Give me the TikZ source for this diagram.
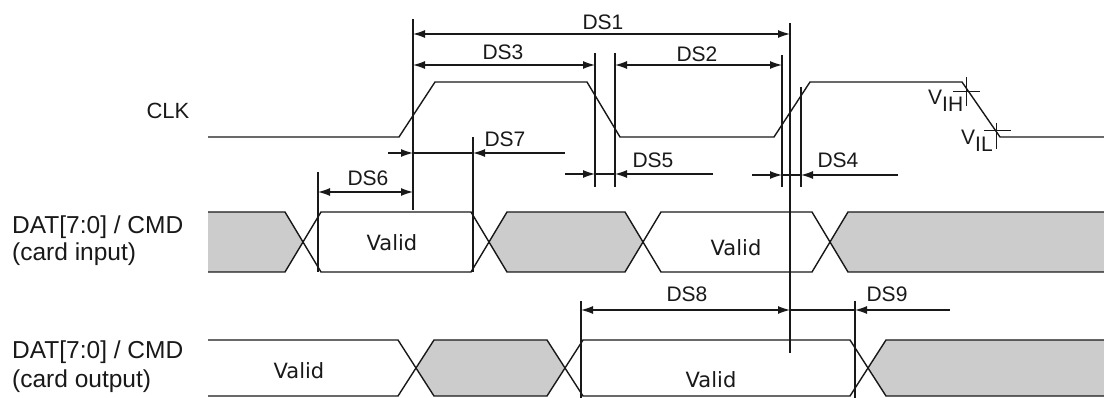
\documentclass[tikz,border=0pt]{standalone}
\usepackage{fontspec}
\setmainfont{Liberation Sans}
\newfontfamily\validfont{DejaVu Sans}
\usetikzlibrary{arrows.meta}
\definecolor{sigfill}{RGB}{204,204,204}
\definecolor{ink}{RGB}{25,25,25}
\begin{document}
\begin{tikzpicture}[x=1pt,y=-1pt,
  sig/.style={draw=ink, line width=1.4pt, line join=miter},
  dim/.style={draw=ink, line width=1.2pt},
  tip/.style={-{Latex[length=12pt,width=8pt]}},
  bothtip/.style={{Latex[length=12pt,width=8pt]}-{Latex[length=12pt,width=8pt]}},
  dslbl/.style={font=\fontsize{21}{21}\selectfont, inner sep=0pt, text=ink},
  signame/.style={font=\fontsize{24.5}{28}\selectfont, inner sep=0pt, anchor=base west, text=ink},
  validlbl/.style={font=\validfont\fontsize{21}{21}\selectfont, inner sep=0pt, text=ink},
  vlbl/.style={font=\fontsize{21}{21}\selectfont, inner sep=0pt, text=ink}]
\useasboundingbox (0,0) rectangle (1104,398);
\clip (0,0) rectangle (1104,398);
\fill[white] (0,0) rectangle (1104,398);

% ---------- signal names ----------
\node[font=\fontsize{22}{22}\selectfont, inner sep=0pt, text=ink] (clk) at (168,111) {CLK};
\node[signame] (inA) at (12,234) {DAT[7:0] / CMD};
\node[signame] (inB) at (12,261) {(card input)};
\node[signame] (outA) at (12,358) {DAT[7:0] / CMD};
\node[signame] (outB) at (12,387) {(card output)};

% ---------- CLK ----------
\draw[sig] (208,137) -- (399,137) -- (435,82) -- (587,82) -- (620,137) -- (774,137)
  -- (810,82) -- (962,82) -- (1000,137) -- (1104,137);
% VIH / VIL marks
\coordinate (vih) at (968,91);
\coordinate (vil) at (997,130);
\draw[dim, line width=0.9pt] (953,91) -- (980,91) (966,77) -- (966,106);
\draw[dim, line width=0.9pt] (984,130) -- (1011,130) (996,123) -- (996,149);
\node[vlbl, anchor=base west] (vihl) at (928,105) {V\raisebox{-7pt}{IH}};
\node[vlbl, anchor=base west] (vill) at (961,145) {V\raisebox{-7pt}{IL}};

% ---------- card input ----------
\fill[sigfill] (208,212) -- (285,212) -- (303,242) -- (285,272) -- (208,272) -- cycle;
\fill[sigfill] (489,242) -- (507,212) -- (625,212) -- (643,242) -- (625,272) -- (507,272) -- cycle;
\fill[sigfill] (830,242) -- (848,212) -- (1104,212) -- (1104,272) -- (848,272) -- cycle;
\draw[sig] (208,212) -- (285,212) -- (321,272) -- (471,272) -- (507,212) -- (625,212)
  -- (661,272) -- (812,272) -- (848,212) -- (1104,212);
\draw[sig] (208,272) -- (285,272) -- (321,212) -- (471,212) -- (507,272) -- (625,272)
  -- (661,212) -- (812,212) -- (848,272) -- (1104,272);
\node[validlbl] (v1) at (392,243) {Valid};
\node[validlbl] (v2) at (736,248) {Valid};

% ---------- card output ----------
\fill[sigfill] (416,368) -- (434,340) -- (547,340) -- (565,368) -- (547,396) -- (434,396) -- cycle;
\fill[sigfill] (868,368) -- (886,340) -- (1104,340) -- (1104,396) -- (886,396) -- cycle;
\draw[sig] (208,340) -- (398,340) -- (434,396) -- (547,396) -- (583,340) -- (850,340)
  -- (886,396) -- (1104,396);
\draw[sig] (208,396) -- (398,396) -- (434,340) -- (547,340) -- (583,396) -- (850,396)
  -- (886,340) -- (1104,340);
\node[validlbl] (v3) at (299,371) {Valid};
\node[validlbl] (v4) at (711,380) {Valid};

% ---------- reference lines ----------
\coordinate (a1) at (318,172); \coordinate (a2) at (318,272);
\coordinate (b1) at (413,19);  \coordinate (b2) at (413,210);
\coordinate (c1) at (473,137); \coordinate (c2) at (473,272);
\coordinate (d1) at (595,53);  \coordinate (d2) at (595,187);
\coordinate (e1) at (615,53);  \coordinate (e2) at (615,187);
\coordinate (f1) at (782,55);  \coordinate (f2) at (782,187);
\coordinate (g1) at (790,23);  \coordinate (g2) at (790,353);
\coordinate (h1) at (801,87);  \coordinate (h2) at (801,187);
\coordinate (i1) at (581,301); \coordinate (i2) at (581,398);
\coordinate (j1) at (855,301); \coordinate (j2) at (855,398);
\foreach \p in {a,b,c,d,e,f,g,h,i,j} \draw[dim] (\p1) -- (\p2);

% ---------- dimensions ----------
% DS1
\coordinate (ds1l) at (413,34); \coordinate (ds1r) at (790,34);
\draw[dim, bothtip] (ds1l) -- (ds1r);
\node[dslbl] (ds1) at (603,22) {DS1};
% DS3
\coordinate (ds3l) at (413,65); \coordinate (ds3r) at (595,65);
\draw[dim, bothtip] (ds3l) -- (ds3r);
\node[dslbl] (ds3) at (503,52) {DS3};
% DS2
\coordinate (ds2l) at (615,65); \coordinate (ds2r) at (782,65);
\draw[dim, bothtip] (ds2l) -- (ds2r);
\node[dslbl] (ds2) at (697,54) {DS2};
% DS7
\coordinate (ds7a) at (388,153); \coordinate (ds7b) at (413,153);
\coordinate (ds7c) at (473,153); \coordinate (ds7d) at (565,153);
\draw[dim, tip] (ds7a) -- (ds7b);
\draw[dim] (ds7b) -- (ds7c);
\draw[dim, tip] (ds7d) -- (ds7c);
\node[dslbl] (ds7) at (505,139) {DS7};
% DS6
\coordinate (ds6l) at (318,192); \coordinate (ds6r) at (413,192);
\draw[dim, bothtip] (ds6l) -- (ds6r);
\node[dslbl] (ds6) at (368,178) {DS6};
% DS5
\coordinate (ds5a) at (565,174); \coordinate (ds5b) at (595,174);
\coordinate (ds5c) at (615,174); \coordinate (ds5d) at (713,174);
\draw[dim, tip] (ds5a) -- (ds5b);
\draw[dim] (ds5b) -- (ds5c);
\draw[dim, tip] (ds5d) -- (ds5c);
\node[dslbl] (ds5) at (653,160) {DS5};
% DS4
\coordinate (ds4a) at (752,175); \coordinate (ds4b) at (782,175);
\coordinate (ds4c) at (801,175); \coordinate (ds4d) at (898,175);
\draw[dim, tip] (ds4a) -- (ds4b);
\draw[dim] (ds4b) -- (ds4c);
\draw[dim, tip] (ds4d) -- (ds4c);
\node[dslbl] (ds4) at (838,160) {DS4};
% DS8 / DS9
\coordinate (ds8l) at (581,310); \coordinate (ds8r) at (790,310);
\coordinate (ds9a) at (855,310); \coordinate (ds9b) at (950,310);
\draw[dim, bothtip] (ds8l) -- (ds8r);
\draw[dim] (ds8r) -- (ds9a);
\draw[dim, tip] (ds9b) -- (ds9a);
\node[dslbl] (ds8) at (687,294) {DS8};
\node[dslbl] (ds9) at (887,294) {DS9};
\end{tikzpicture}
\end{document}
